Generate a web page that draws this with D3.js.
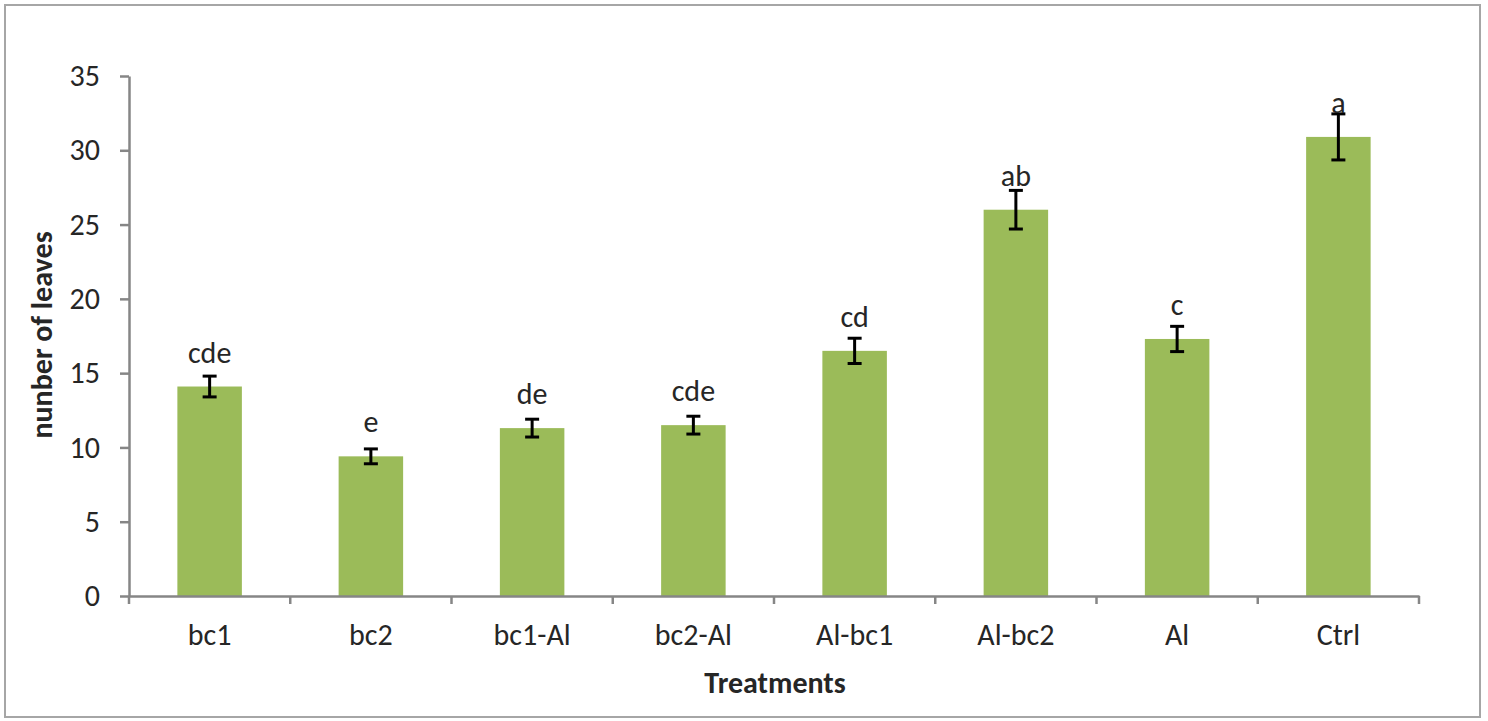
<!DOCTYPE html>
<html>
<head>
<meta charset="utf-8">
<script src="https://cdn.jsdelivr.net/npm/d3@7"></script>
<style>
  body { margin: 0; background: #fff; }
  svg text { font-family: Carlito, Calibri, "Open Sans", sans-serif; fill: #262626; }
</style>
</head>
<body>
<svg width="1488" height="721"></svg>
<script>
const treatments = ['bc1', 'bc2', 'bc1-Al', 'bc2-Al', 'Al-bc1', 'Al-bc2', 'Al', 'Ctrl'];
const leaves = [14.1, 9.4, 11.3, 11.5, 16.5, 26.0, 17.3, 30.9];
const errors = [0.7, 0.5, 0.6, 0.6, 0.85, 1.3, 0.85, 1.55];
const letters = ['cde', 'e', 'de', 'cde', 'cd', 'ab', 'c', 'a'];
const yTicks = [0, 5, 10, 15, 20, 25, 30, 35];

const svg = d3.select('svg');

// chart frame
svg.append('rect')
    .attr('x', 5).attr('y', 5)
    .attr('width', 1475).attr('height', 712)
    .attr('fill', 'none')
    .attr('stroke', '#a6a6a6')
    .attr('stroke-width', 2);

const x = d3.scaleBand().domain(treatments).range([129, 1419]);
const y = d3.scaleLinear().domain([0, 35]).range([596, 76]);
const barW = x.bandwidth() * 0.4;

const g = svg.append('g');

// bars
g.selectAll('rect.bar').data(treatments).enter().append('rect')
    .attr('class', 'bar')
    .attr('x', d => x(d) + (x.bandwidth() - barW) / 2)
    .attr('y', (d, i) => y(leaves[i]))
    .attr('width', barW)
    .attr('height', (d, i) => y(0) - y(leaves[i]))
    .attr('fill', '#9bbb59');

// error bars
const eb = g.selectAll('g.err').data(treatments).enter().append('g')
    .attr('class', 'err')
    .attr('stroke', '#000')
    .attr('stroke-width', 3);
const cx = d => x(d) + x.bandwidth() / 2;
eb.append('line')
    .attr('x1', cx).attr('x2', cx)
    .attr('y1', (d, i) => y(leaves[i] + errors[i]))
    .attr('y2', (d, i) => y(leaves[i] - errors[i]));
eb.append('line')
    .attr('x1', d => cx(d) - 7).attr('x2', d => cx(d) + 7)
    .attr('y1', (d, i) => y(leaves[i] + errors[i]))
    .attr('y2', (d, i) => y(leaves[i] + errors[i]));
eb.append('line')
    .attr('x1', d => cx(d) - 7).attr('x2', d => cx(d) + 7)
    .attr('y1', (d, i) => y(leaves[i] - errors[i]))
    .attr('y2', (d, i) => y(leaves[i] - errors[i]));

// significance letters
g.selectAll('text.lbl').data(treatments).enter().append('text')
    .attr('class', 'lbl')
    .attr('x', cx)
    .attr('y', (d, i) => y(leaves[i]) - 24)
    .attr('text-anchor', 'middle')
    .style('font-size', '30px')
    .text((d, i) => letters[i]);

// y axis
const yAxis = svg.append('g')
    .attr('transform', 'translate(129,0)')
    .call(d3.axisLeft(y).tickValues(yTicks).tickSize(9).tickPadding(20).tickSizeOuter(0));
yAxis.selectAll('text').style('font-size', '30px');

// x axis, ticks on category boundaries
const xAxis = svg.append('g')
    .attr('transform', 'translate(0,596)')
    .call(d3.axisBottom(x).tickSize(0).tickPadding(28).tickSizeOuter(0));
xAxis.selectAll('text').style('font-size', '30px');
xAxis.selectAll('.bound').data(treatments.concat([null])).enter().append('line')
    .attr('class', 'bound')
    .attr('x1', (d, i) => 129 + i * x.step())
    .attr('x2', (d, i) => 129 + i * x.step())
    .attr('y1', 0).attr('y2', 8);

svg.selectAll('.domain, .tick line, .bound')
    .attr('stroke', '#868686')
    .attr('stroke-width', 2.5);

// axis titles
svg.append('text')
    .attr('x', 775).attr('y', 693)
    .attr('text-anchor', 'middle')
    .style('font-size', '30px')
    .style('font-weight', 'bold')
    .text('Treatments');

svg.append('text')
    .attr('transform', 'translate(52,335) rotate(-90)')
    .attr('text-anchor', 'middle')
    .style('font-size', '30px')
    .style('font-weight', 'bold')
    .text('nunber of leaves');
</script>
</body>
</html>
